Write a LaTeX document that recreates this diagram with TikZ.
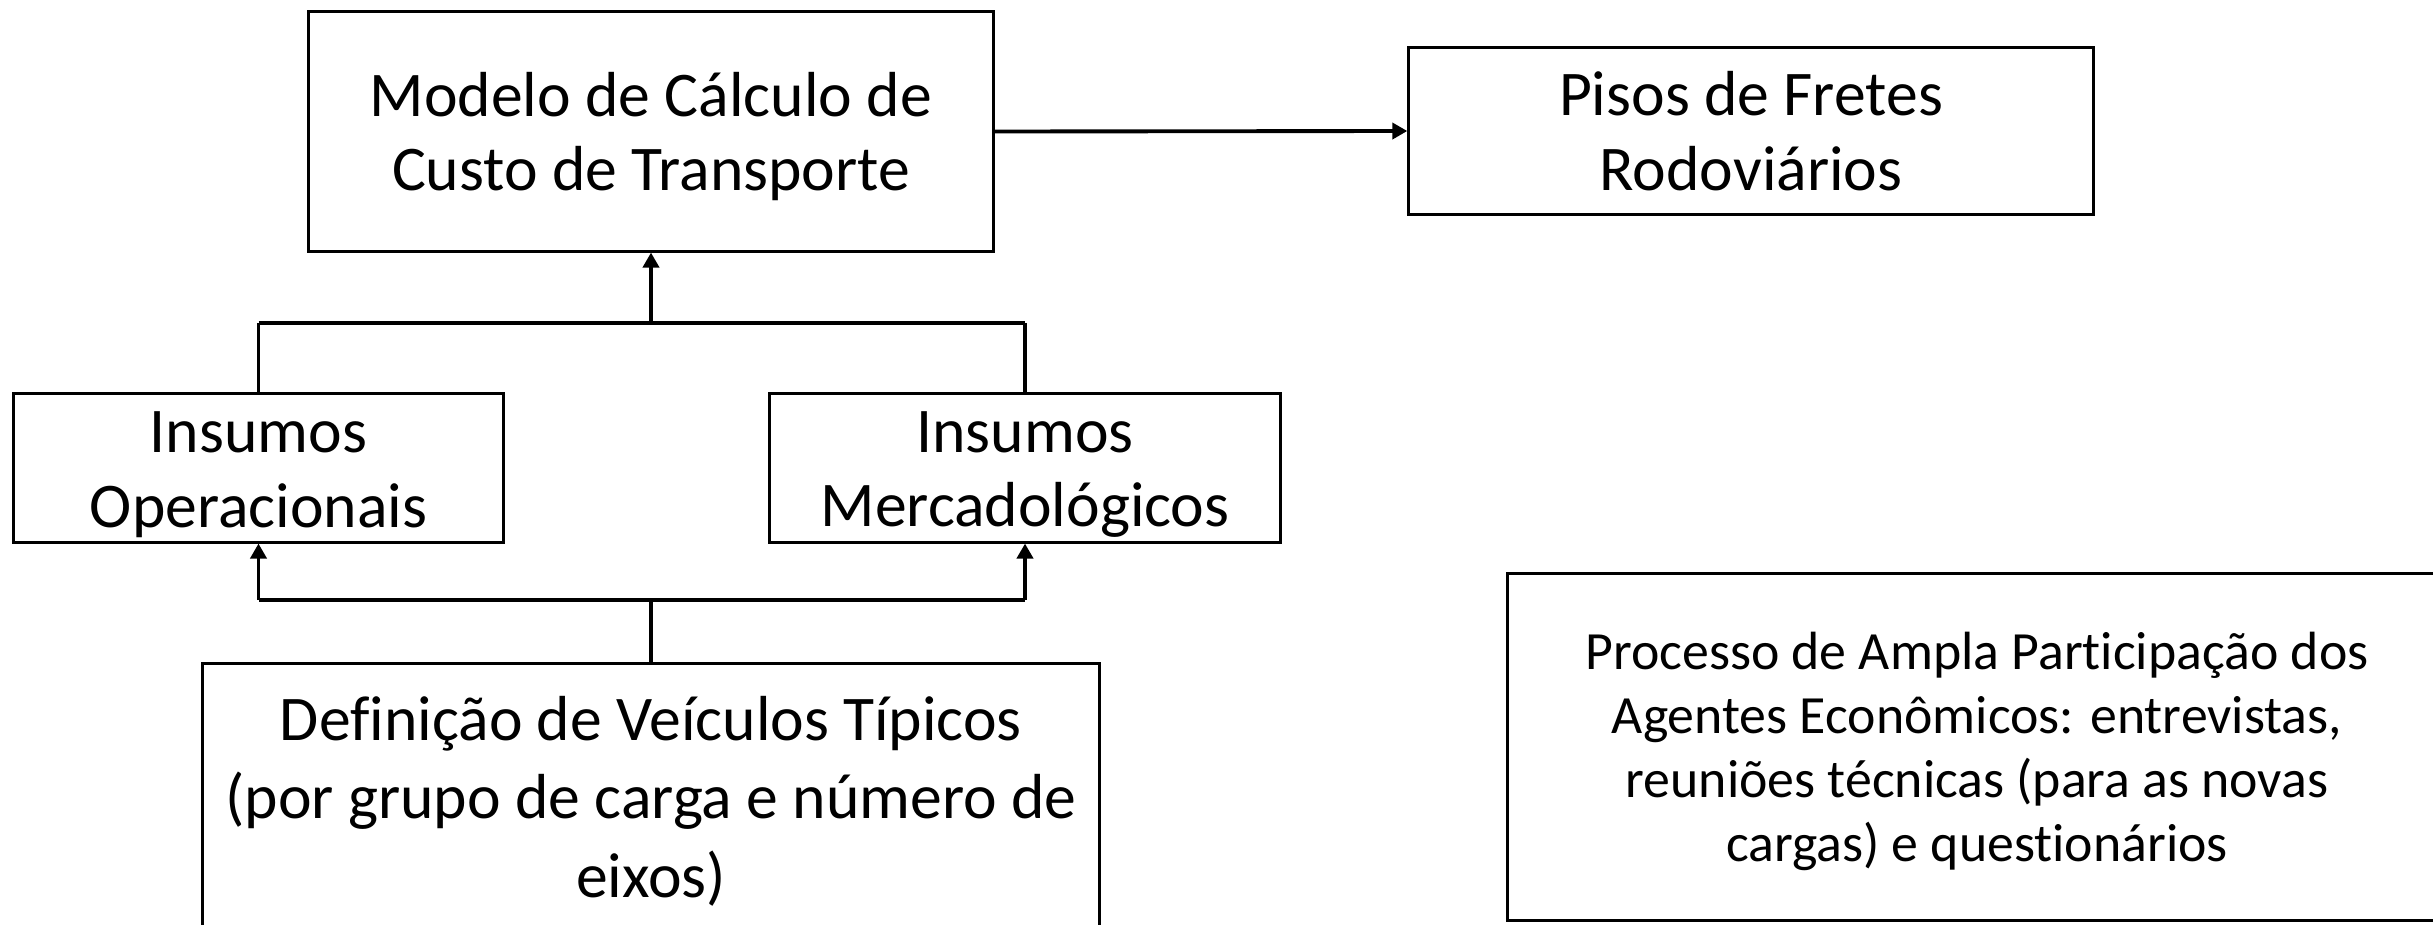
\documentclass[tikz,border=0pt]{standalone}
\usepackage{fontspec}
\setmainfont{Carlito}[Ligatures=NoCommon]
\usetikzlibrary{arrows.meta}
\newcommand{\lnstrut}{\rule[-0.16em]{0pt}{1.01em}}
\begin{document}
\begin{tikzpicture}[x=0.01cm,y=-0.01cm,
  box/.style={draw, line width=0.85pt, inner sep=0pt, align=center,
    font=\fontsize{18.1}{21.2}\selectfont},
  smalltext/.style={font=\fontsize{15.3}{18.2}\selectfont},
  conn/.style={line width=1.1pt},
  bar/.style={line width=1.4pt},
  arr/.style={conn,-{Triangle[length=0.15cm,width=0.16cm]}}]
\useasboundingbox (0,0) rectangle (2433,924);
\clip (0,0) rectangle (2433,924);

\node[box, minimum width=6.84cm, minimum height=2.39cm] (modelo) at (651,131.5)
  {\lnstrut Modelo de Cálculo de\\\lnstrut Custo de Transporte};
\node[box, minimum width=6.84cm, minimum height=1.66cm] (pisos) at (1751,131)
  {\lnstrut Pisos de Fretes\\\lnstrut Rodoviários};
\node[box, minimum width=4.89cm, minimum height=1.48cm] (oper) at (258.5,468)
  {\lnstrut Insumos\\\lnstrut Operacionais};
\node[box, minimum width=5.10cm, minimum height=1.48cm] (merc) at (1025,468)
  {\lnstrut Insumos\\\lnstrut Mercadológicos};
\node[box, minimum width=8.96cm, minimum height=2.66cm,
  font=\fontsize{18.1}{22.2}\selectfont] (defin) at (651,797)
  {\lnstrut Definição de Veículos Típicos\\\lnstrut (por grupo de carga e número de\\\lnstrut eixos)};
\node[box, smalltext, minimum width=9.38cm, minimum height=3.46cm] (proc) at (1977,747)
  {\lnstrut Processo de Ampla Participação dos\\\lnstrut Agentes Econômicos: entrevistas,\\\lnstrut reuniões técnicas (para as novas\\\lnstrut cargas) e questionários};

% top connectors
\draw[arr] (modelo.east) -- (pisos.west);
\coordinate (jtop) at (modelo.south |- 0,323);
\coordinate (jtopl) at (oper.north |- jtop);
\coordinate (jtopr) at (merc.north |- jtop);
\draw[conn] (oper.north) -- (jtopl);
\draw[conn] (merc.north) -- (jtopr);
\draw[bar] (jtopl) -- (jtopr);
\draw[arr] (jtop) -- (modelo.south);

% bottom connectors
\coordinate (jbot) at (defin.north |- 0,600);
\coordinate (jbotl) at (oper.south |- jbot);
\coordinate (jbotr) at (merc.south |- jbot);
\draw[conn] (defin.north) -- (jbot);
\draw[bar] (jbotl) -- (jbotr);
\draw[arr] (jbotl) -- (oper.south);
\draw[arr] (jbotr) -- (merc.south);
\end{tikzpicture}
\end{document}
